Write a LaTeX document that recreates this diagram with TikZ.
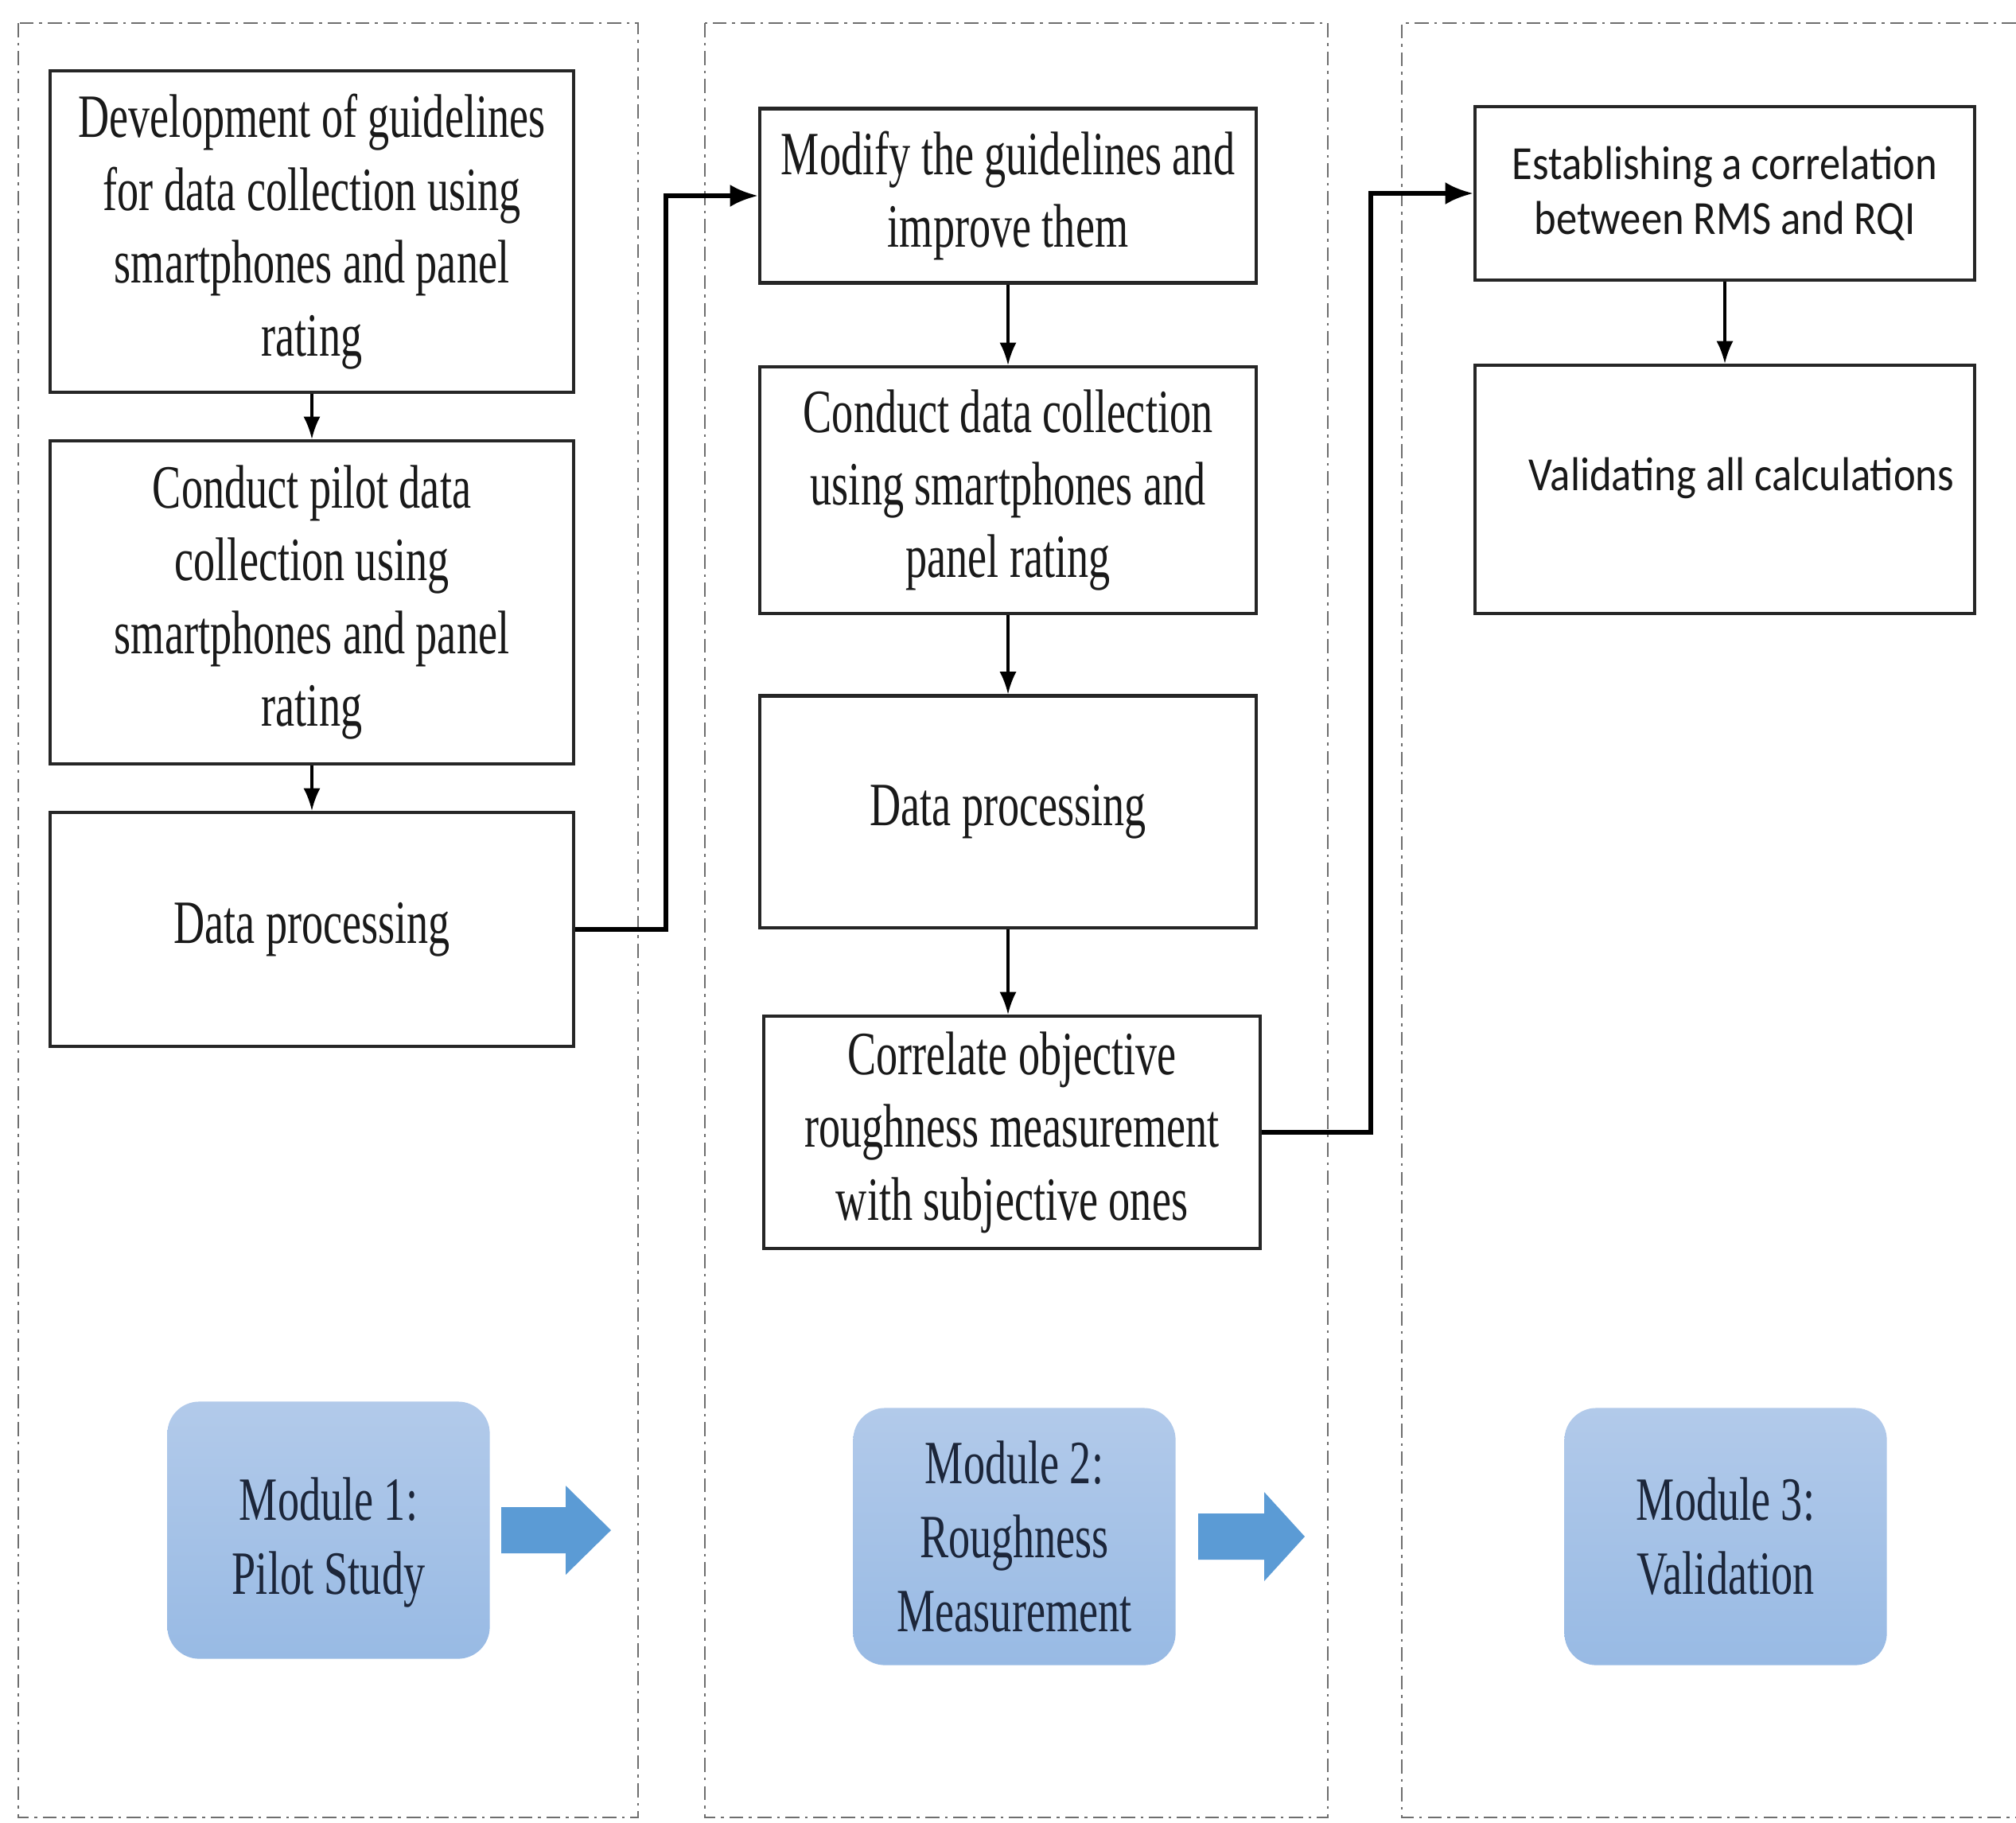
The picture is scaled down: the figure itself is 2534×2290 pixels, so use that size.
\documentclass[tikz,border=0pt]{standalone}
\usepackage{fontspec}
\newfontfamily\timesfont[FakeStretch=0.70]{Liberation Serif}
\newfontfamily\calfont[FakeStretch=0.88]{Carlito}
\usepackage{xcolor}
\usepackage{tikz}
\usetikzlibrary{arrows.meta}
\definecolor{modtop}{RGB}{178,202,234}
\definecolor{modbot}{RGB}{152,186,228}
\definecolor{arrfill}{RGB}{91,155,213}
\definecolor{modtext}{RGB}{28,38,58}
\definecolor{framegray}{RGB}{110,110,110}
\tikzset{
  stepbox/.style={draw=black!85,line width=1.2pt,align=center,inner sep=0pt,text=black!90,
    font=\timesfont\fontsize{22}{26}\selectfont},
  calbox/.style={stepbox,font=\calfont\fontsize{17}{19.5}\selectfont},
  modbox/.style={rounded corners=0.4cm,top color=modtop,bottom color=modbot,align=center,
    minimum width=4.05cm,minimum height=3.23cm,text=modtext,
    font=\timesfont\fontsize{22}{26.5}\selectfont},
  frame/.style={framegray,line width=0.8pt,dash pattern=on 5pt off 2pt on 1pt off 2pt},
  flow/.style={line width=0.9pt,-{Latex[length=8pt,width=6pt]}},
  conn/.style={line width=1.6pt,-{Latex[length=10pt,width=8pt]}}
}
\begin{document}
\begin{tikzpicture}[x=0.01cm,y=-0.01cm]
  \useasboundingbox (0,0) rectangle (2534,2290);
  % frames of the three modules
  \draw[frame] (23,29) rectangle (802,2284);
  \draw[frame] (886,29) rectangle (1669,2284);
  \draw[frame] (2534,29) -- (1762,29) -- (1762,2284) -- (2534,2284);
  % module 1
  \node (p1) [stepbox,minimum width=6.58cm,minimum height=4.04cm] at (392,291)
    {Development of guidelines\\for data collection using\\smartphones and panel\\rating};
  \node (p2) [stepbox,minimum width=6.58cm,minimum height=4.06cm] at (392,757)
    {Conduct pilot data\\collection using\\smartphones and panel\\rating};
  \node (p3) [stepbox,minimum width=6.58cm,minimum height=2.94cm] at (392,1168)
    {Data processing};
  \draw[flow] (p1) -- (p2);
  \draw[flow] (p2) -- (p3);
  % module 2
  \node (r1) [stepbox,minimum width=6.24cm,minimum height=2.19cm] at (1267,246)
    {Modify the guidelines and\\improve them};
  \node (r2) [stepbox,minimum width=6.24cm,minimum height=3.10cm] at (1267,616)
    {Conduct data collection\\using smartphones and\\panel rating};
  \node (r3) [stepbox,minimum width=6.24cm,minimum height=2.91cm] at (1267,1020)
    {Data processing};
  \node (r4) [stepbox,minimum width=6.24cm,minimum height=2.92cm] at (1272,1423)
    {Correlate objective\\roughness measurement\\with subjective ones};
  \draw[flow] (r1) -- (r2);
  \draw[flow] (r2) -- (r3);
  \draw[flow] (r3.south) -- (r3.south |- r4.north);
  % module 3
  \node (v1) [calbox,minimum width=6.28cm,minimum height=2.18cm] at (2168,243)
    {Establishing a correlation\\between RMS and RQI};
  \node (v2) [calbox,minimum width=6.28cm,minimum height=3.12cm] at (2168,615)
    {\hspace*{12pt}\raisebox{4pt}[\height][\depth]{Validating all calculations}};
  \draw[flow] (v1) -- (v2);
  % links between the modules
  \coordinate (j1) at (837,0);
  \coordinate (j2) at (1723,0);
  \draw[conn] (p3.east) -- (p3.east -| j1) |- (r1.west);
  \draw[conn] (r4.east) -- (r4.east -| j2) |- (v1.west);
  % module labels
  \node (m1) [modbox] at (413,1923)
    {\raisebox{-4.5pt}[\height][\depth]{\parbox{3.5cm}{\centering Module 1:\\Pilot Study}}};
  \node (m2) [modbox] at (1275,1931) {Module 2:\\Roughness\\Measurement};
  \node (m3) [modbox] at (2169,1931) {Module 3:\\Validation};
  \fill[arrfill,shift={(630,1923)}] (0,-29) -- (81,-29) -- (81,-56) -- (138,0)
    -- (81,56) -- (81,29) -- (0,29) -- cycle;
  \fill[arrfill,shift={(1506,1931)}] (0,-29) -- (83,-29) -- (83,-56) -- (134,0)
    -- (83,56) -- (83,29) -- (0,29) -- cycle;
\end{tikzpicture}
\end{document}
